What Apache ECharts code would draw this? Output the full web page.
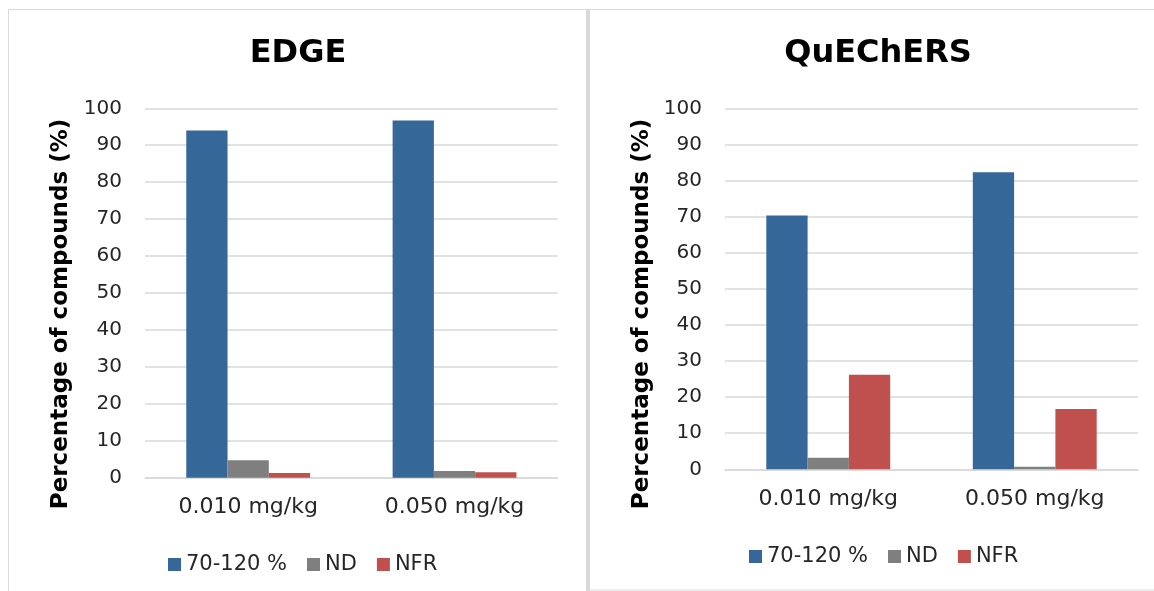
<!DOCTYPE html>
<html>
<head>
<meta charset="utf-8">
<script src="https://cdn.jsdelivr.net/npm/echarts@6/dist/echarts.min.js"></script>
<style>
html,body{margin:0;padding:0;background:#fff;}
#chart{width:1154px;height:591px;}
</style>
</head>
<body>
<div id="chart"></div>
<script>
// ---- data ----
const categories = ['0.010 mg/kg', '0.050 mg/kg'];
const seriesNames = ['70-120 %', 'ND', 'NFR'];
const edgeRecovery = [94.0, 96.7];
const edgeND = [4.7, 1.8];
const edgeNFR = [1.3, 1.5];
const quechersRecovery = [70.3, 82.3];
const quechersND = [3.2, 0.7];
const quechersNFR = [26.2, 16.7];
const yTicks = [0, 10, 20, 30, 40, 50, 60, 70, 80, 90, 100];
const panelTitles = ['EDGE', 'QuEChERS'];
const yAxisTitle = 'Percentage of compounds (%)';

const colors = ['#356799', '#7f7f7f', '#c0504d'];
const FONT = 'DejaVu Sans';
const chart = echarts.init(document.getElementById('chart'), null, {renderer: 'canvas'});

function xAxis(gi) {
  return {
    type: 'category', gridIndex: gi, data: categories,
    axisLine: {show: true, lineStyle: {color: '#d9d9d9', width: 1.5}},
    axisTick: {show: false},
    axisLabel: {fontFamily: FONT, fontSize: 22, color: '#262626', margin: 19}
  };
}
function yAxis(gi) {
  return {
    type: 'value', gridIndex: gi, min: yTicks[0], max: yTicks[yTicks.length - 1],
    interval: yTicks[1] - yTicks[0],
    axisLine: {show: false}, axisTick: {show: false},
    splitLine: {lineStyle: {color: '#d9d9d9', width: 1.5}},
    axisLabel: {fontFamily: FONT, fontSize: 20, color: '#262626', margin: 23}
  };
}
function bar(name, data, gi, color) {
  return {
    name: name, type: 'bar', xAxisIndex: gi, yAxisIndex: gi, data: data,
    barGap: '0%', barCategoryGap: '40%',
    itemStyle: {color: color},
    emphasis: {disabled: true}
  };
}
const legendBase = {
  data: seriesNames, icon: 'rect', itemWidth: 13, itemHeight: 13, itemGap: 20,
  textStyle: {fontFamily: FONT, fontSize: 21, color: '#262626'},
  selectedMode: false
};

const option = {
  animation: false,
  color: colors,
  grid: [
    {left: 145, top: 108.3, width: 412.7, height: 369.4},
    {left: 725, top: 108.3, width: 413, height: 361}
  ],
  xAxis: [xAxis(0), xAxis(1)],
  yAxis: [yAxis(0), yAxis(1)],
  legend: [
    Object.assign({}, legendBase, {left: 163, top: 549}),
    Object.assign({}, legendBase, {left: 744, top: 541})
  ],
  series: [
    bar(seriesNames[0], edgeRecovery, 0, colors[0]),
    bar(seriesNames[1], edgeND, 0, colors[1]),
    bar(seriesNames[2], edgeNFR, 0, colors[2]),
    bar(seriesNames[0], quechersRecovery, 1, colors[0]),
    bar(seriesNames[1], quechersND, 1, colors[1]),
    bar(seriesNames[2], quechersNFR, 1, colors[2])
  ],
  graphic: [
    // panel frames
    {type: 'line', shape: {x1: 8.5, y1: 9.5, x2: 586, y2: 9.5}, style: {stroke: '#d9d9d9', lineWidth: 1}, silent: true},
    {type: 'line', shape: {x1: 8.5, y1: 9.5, x2: 8.5, y2: 591}, style: {stroke: '#d9d9d9', lineWidth: 1}, silent: true},
    {type: 'rect', shape: {x: 586, y: 9, width: 4, height: 582}, style: {fill: '#d9d9d9'}, silent: true},
    {type: 'line', shape: {x1: 590, y1: 9.5, x2: 1154, y2: 9.5}, style: {stroke: '#d9d9d9', lineWidth: 1}, silent: true},
    {type: 'line', shape: {x1: 590, y1: 590, x2: 1154, y2: 590}, style: {stroke: '#d9d9d9', lineWidth: 1}, silent: true},
    // titles
    {type: 'text', x: 298, y: 54, style: {text: panelTitles[0], fontFamily: FONT, fontWeight: 'bold', fontSize: 32, fill: '#000', align: 'center', verticalAlign: 'middle'}, silent: true},
    {type: 'text', x: 878, y: 54, style: {text: panelTitles[1], fontFamily: FONT, fontWeight: 'bold', fontSize: 32, fill: '#000', align: 'center', verticalAlign: 'middle'}, silent: true},
    // y-axis titles
    {type: 'text', x: 61, y: 314, rotation: Math.PI / 2, style: {text: yAxisTitle, fontFamily: FONT, fontWeight: 'bold', fontSize: 23, fill: '#000', align: 'center', verticalAlign: 'middle'}, silent: true},
    {type: 'text', x: 642, y: 314, rotation: Math.PI / 2, style: {text: yAxisTitle, fontFamily: FONT, fontWeight: 'bold', fontSize: 23, fill: '#000', align: 'center', verticalAlign: 'middle'}, silent: true}
  ]
};
chart.setOption(option);
</script>
</body>
</html>
